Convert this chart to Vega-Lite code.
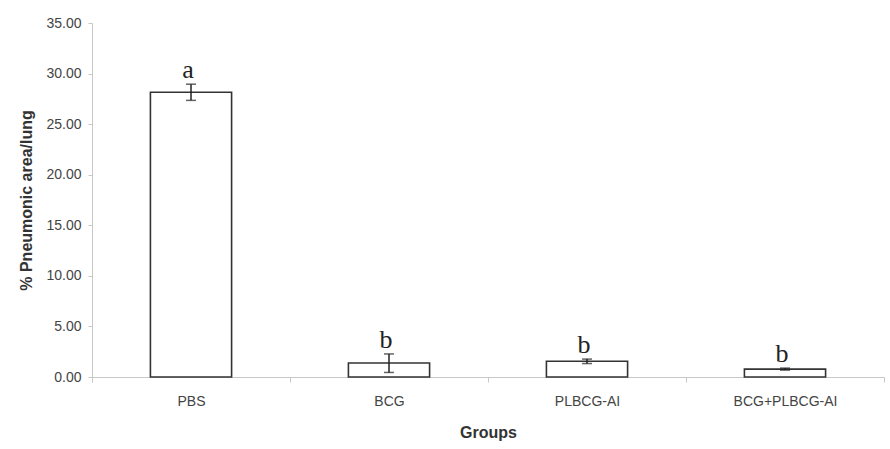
{
  "$schema": "https://vega.github.io/schema/vega-lite/v6.json",
  "autosize": "none",
  "width": 792,
  "height": 354,
  "padding": {"left": 92, "top": 23, "right": 6, "bottom": 72},
  "background": "white",
  "data": {
    "values": [
      {"group": "PBS", "mean": 28.15, "sd": 0.8, "lo": 27.35, "hi": 28.95, "letter": "a"},
      {"group": "BCG", "mean": 1.38, "sd": 0.9, "lo": 0.45, "hi": 2.28, "letter": "b"},
      {"group": "PLBCG-AI", "mean": 1.55, "sd": 0.22, "lo": 1.33, "hi": 1.77, "letter": "b"},
      {"group": "BCG+PLBCG-AI", "mean": 0.78, "sd": 0.1, "lo": 0.68, "hi": 0.88, "letter": "b"}
    ]
  },
  "encoding": {
    "x": {
      "field": "group",
      "type": "nominal",
      "sort": null,
      "scale": {"paddingInner": 0, "paddingOuter": 0},
      "axis": {
        "title": "Groups",
        "labelAngle": 0,
        "labelFont": "Liberation Sans",
        "labelFontSize": 14,
        "labelColor": "#444",
        "labelPadding": 12,
        "titleFont": "Liberation Sans",
        "titleFontSize": 16,
        "titleFontWeight": "bold",
        "titleColor": "#333",
        "titlePadding": 16,
        "domainColor": "#c8c8c8",
        "tickColor": "#c8c8c8",
        "tickSize": 5,
        "tickBand": "extent",
        "grid": false
      }
    }
  },
  "layer": [
    {
      "mark": {"type": "bar", "fill": "white", "stroke": "#333", "strokeWidth": 1.6, "width": {"band": 0.41}},
      "encoding": {
        "y": {
          "field": "mean",
          "type": "quantitative",
          "scale": {"domain": [0, 35]},
          "axis": {
            "title": "% Pneumonic area/lung",
            "values": [0, 5, 10, 15, 20, 25, 30, 35],
            "format": ".2f",
            "labelFont": "Liberation Sans",
            "labelFontSize": 14,
            "labelColor": "#444",
            "labelPadding": 7,
            "titleFont": "Liberation Sans",
            "titleFontSize": 16,
            "titleFontWeight": "bold",
            "titleColor": "#333",
            "titlePadding": 11,
            "domainColor": "#c8c8c8",
            "tickColor": "#c8c8c8",
            "tickSize": 4,
            "grid": false
          }
        }
      }
    },
    {
      "mark": {"type": "rule", "color": "#222", "strokeWidth": 1.5},
      "encoding": {
        "y": {"field": "lo", "type": "quantitative"},
        "y2": {"field": "hi"}
      }
    },
    {
      "mark": {"type": "tick", "color": "#222", "size": 10, "thickness": 1.5},
      "encoding": {"y": {"field": "hi", "type": "quantitative"}}
    },
    {
      "mark": {"type": "tick", "color": "#222", "size": 10, "thickness": 1.5},
      "encoding": {"y": {"field": "lo", "type": "quantitative"}}
    },
    {
      "mark": {"type": "text", "font": "Liberation Serif", "fontSize": 26, "color": "#222", "baseline": "alphabetic", "dy": -6, "dx": -3},
      "encoding": {
        "y": {"field": "hi", "type": "quantitative"},
        "text": {"field": "letter"}
      }
    }
  ],
  "config": {"view": {"stroke": null}}
}
